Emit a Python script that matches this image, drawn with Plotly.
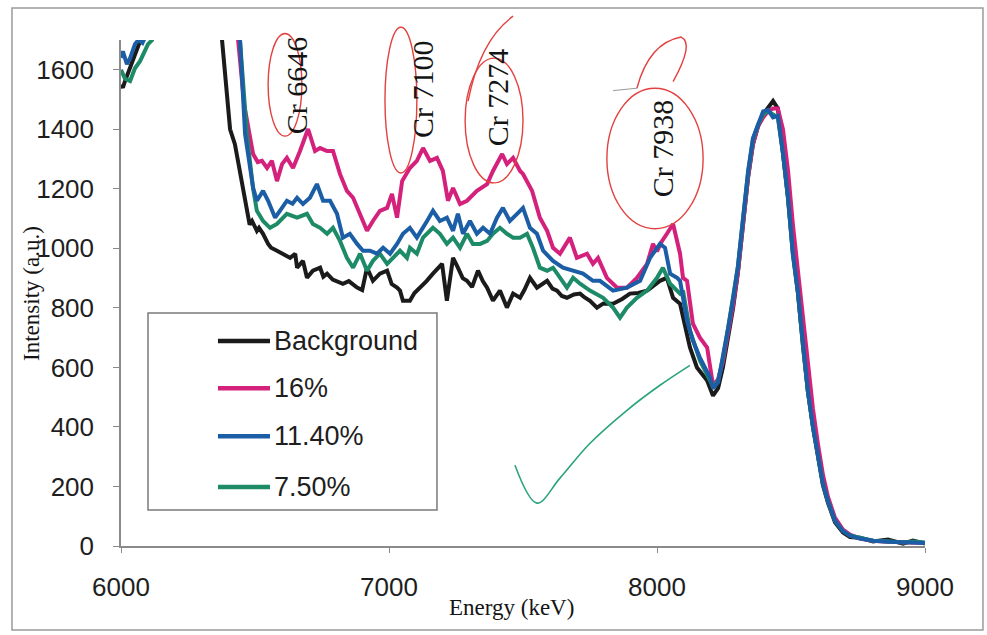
import plotly.graph_objects as go

# ---------------- data ----------------
BLACK_E = [6000, 6007, 6015, 6034, 6045, 6060, 6071, 6090, 6120, 6200, 6300, 6350, 6377, 6399, 6407,
           6425, 6444, 6451, 6463, 6480, 6489, 6507, 6515, 6530, 6549, 6560, 6582, 6605, 6631, 6650,
           6657, 6679, 6694, 6716, 6743, 6755, 6769, 6790, 6828, 6850, 6881, 6900, 6918, 6940, 6966,
           6993, 7010, 7030, 7041, 7052, 7078, 7095, 7116, 7140, 7164, 7198, 7216, 7239, 7257, 7275,
           7291, 7310, 7332, 7350, 7366, 7388, 7414, 7440, 7463, 7489, 7505, 7526, 7552, 7575, 7590,
           7610, 7627, 7645, 7664, 7690, 7713, 7730, 7750, 7776, 7800, 7836, 7870, 7899, 7930, 7963,
           7990, 8011, 8037, 8060, 8086, 8100, 8123, 8149, 8187]
BLACK_I = [1550, 1540, 1562, 1605, 1639, 1672, 1696, 1730, 1900, 2300, 2300, 2000, 1700, 1495, 1400,
           1350, 1250, 1226, 1160, 1080, 1092, 1059, 1069, 1049, 1015, 1002, 992, 982, 968, 982,
           935, 958, 901, 925, 935, 905, 915, 895, 881, 890, 868, 860, 935, 891, 915,
           925, 880, 868, 858, 824, 824, 850, 868, 890, 915, 948, 824, 968, 935, 900,
           891, 870, 925, 890, 868, 824, 858, 801, 848, 834, 860, 901, 868, 880, 891,
           865, 858, 840, 834, 845, 848, 835, 824, 801, 815, 814, 830, 848, 850, 858,
           875, 891, 901, 834, 814, 760, 667, 600, 556]

MAGENTA_E = [6000, 6100, 6400, 6437, 6460, 6493, 6510, 6526, 6545, 6563, 6582, 6601, 6619, 6642, 6668,
             6698, 6724, 6743, 6769, 6791, 6817, 6843, 6866, 6892, 6918, 6940, 6966, 6993, 7011, 7030,
             7049, 7078, 7104, 7127, 7153, 7179, 7201, 7220, 7239, 7265, 7291, 7328, 7366, 7388, 7422,
             7440, 7463, 7489, 7500, 7534, 7563, 7590, 7612, 7638, 7675, 7701, 7739, 7761, 7780, 7813,
             7851, 7888, 7925, 7963, 7985, 8000, 8019, 8037, 8060, 8086, 8097, 8112, 8134, 8160, 8187]
MAGENTA_I = [1950, 2300, 2300, 1700, 1480, 1317, 1290, 1294, 1270, 1294, 1226, 1283, 1304, 1270, 1327,
             1401, 1327, 1337, 1327, 1327, 1250, 1193, 1170, 1116, 1059, 1092, 1126, 1136, 1183, 1103,
             1226, 1270, 1294, 1337, 1294, 1304, 1260, 1160, 1203, 1149, 1160, 1193, 1216, 1260, 1317,
             1283, 1304, 1260, 1250, 1193, 1103, 1059, 1002, 982, 1036, 968, 982, 948, 968, 901,
             868, 868, 901, 948, 1015, 990, 1025, 1049, 1082, 982, 901, 891, 747, 700, 667]

BLUE_E = [6000, 6007, 6022, 6034, 6052, 6065, 6080, 6100, 6130, 6200, 6400, 6444, 6463, 6493, 6507,
          6530, 6549, 6575, 6593, 6619, 6640, 6657, 6679, 6705, 6731, 6754, 6780, 6806, 6828, 6854,
          6881, 6903, 6929, 6955, 6978, 7004, 7030, 7052, 7078, 7104, 7142, 7164, 7190, 7216, 7239,
          7257, 7276, 7302, 7328, 7351, 7377, 7403, 7425, 7451, 7478, 7500, 7526, 7552, 7575, 7612,
          7649, 7687, 7724, 7761, 7787, 7836, 7888, 7937, 7974, 8011, 8030, 8049, 8075, 8086, 8112,
          8134, 8160, 8198]
BLUE_I = [1640, 1662, 1619, 1639, 1686, 1700, 1690, 1730, 1900, 2300, 2300, 1700, 1384, 1203, 1160,
          1193, 1160, 1103, 1126, 1160, 1150, 1170, 1149, 1170, 1216, 1160, 1160, 1116, 1036, 1049,
          1015, 992, 992, 982, 1002, 982, 1015, 1049, 1069, 1036, 1092, 1126, 1092, 1103, 1059,
          1116, 1049, 1092, 1049, 1069, 1049, 1103, 1136, 1092, 1116, 1136, 1069, 1049, 992, 958,
          935, 925, 915, 891, 891, 858, 868, 891, 968, 1015, 1002, 915, 901, 891, 757,
          690, 633, 566]

GREEN_E = [6000, 6015, 6034, 6052, 6071, 6090, 6101, 6116, 6135, 6200, 6400, 6444, 6470, 6493, 6507,
           6530, 6556, 6582, 6619, 6657, 6694, 6716, 6743, 6769, 6791, 6817, 6843, 6866, 6892, 6918,
           6940, 6966, 6993, 7015, 7041, 7067, 7078, 7104, 7127, 7164, 7190, 7216, 7239, 7265, 7291,
           7313, 7340, 7366, 7388, 7414, 7440, 7463, 7489, 7515, 7537, 7563, 7590, 7612, 7638, 7664,
           7687, 7713, 7750, 7799, 7836, 7862, 7888, 7925, 7963, 8000, 8022, 8049, 8086, 8097, 8123,
           8160, 8198]
GREEN_I = [1600, 1570, 1562, 1605, 1629, 1662, 1686, 1700, 1800, 2300, 2300, 1700, 1380, 1200, 1126,
           1092, 1069, 1082, 1116, 1103, 1116, 1082, 1069, 1049, 1069, 1025, 968, 935, 982, 925,
           958, 982, 948, 968, 992, 968, 1002, 982, 1036, 1069, 1049, 1015, 1036, 1002, 1049,
           1015, 1015, 1025, 1049, 1069, 1049, 1036, 1036, 1049, 1002, 935, 925, 935, 901, 868,
           901, 881, 858, 834, 801, 767, 801, 834, 858, 901, 935, 881, 848, 858, 724,
           623, 556]

# main peak (all series nearly coincide)
PEAK_E = [8209, 8228, 8246, 8265, 8284, 8302, 8321, 8340, 8358, 8377, 8396, 8414, 8433, 8451, 8470,
          8489, 8507, 8526, 8545, 8563, 8582, 8601, 8619, 8638, 8664, 8694, 8720, 8757, 8806, 8862,
          8918, 8955, 9000]
BLACK_PEAK = [505, 530, 600, 700, 800, 920, 1080, 1240, 1350, 1410, 1450, 1470, 1495, 1470, 1320,
              1170, 990, 850, 670, 520, 400, 290, 205, 145, 80, 45, 30, 28, 15, 22, 8, 18, 8]
MAGENTA_PEAK = [540, 560, 620, 710, 810, 920, 1080, 1240, 1350, 1410, 1440, 1460, 1470, 1470, 1400,
                1260, 1080, 920, 760, 600, 460, 340, 240, 165, 95, 55, 38, 25, 18, 14, 12, 14, 10]
BLUE_PEAK = [530, 550, 630, 730, 830, 940, 1100, 1260, 1370, 1420, 1460, 1465, 1440, 1445, 1320,
             1170, 980, 850, 670, 520, 400, 295, 210, 150, 85, 50, 35, 25, 18, 14, 12, 14, 10]
GREEN_PEAK = [535, 555, 630, 730, 830, 940, 1100, 1255, 1365, 1415, 1450, 1460, 1450, 1440, 1320,
              1165, 980, 850, 670, 520, 400, 295, 210, 150, 85, 50, 35, 28, 18, 16, 12, 15, 12]

SERIES_NAMES = ["Background", "16%", "11.40%", "7.50%"]
SERIES_COLORS = ["#1b1b1b", "#d4217c", "#1c5ea6", "#1d8a68"]

X_TICKS = [6000, 7000, 8000, 9000]
Y_TICKS = [0, 200, 400, 600, 800, 1000, 1200, 1400, 1600]
X_RANGE = [6000, 9000]
Y_RANGE = [0, 1700]

# hand annotations
PEAK_LABELS = ["Cr 6646", "Cr 7100", "Cr 7274", "Cr 7938"]
LABEL_E = [6653, 7123, 7403, 8019]
LABEL_I = [1548, 1535, 1508, 1337]
# ellipses: (E0, E1, I0, I1)
ELLIPSES = [(6549, 6675, 1377, 1722), (6985, 7104, 1253, 1743),
            (7284, 7500, 1220, 1639), (7813, 8172, 1066, 1538)]
CHECK_E = [7470, 7552, 7638, 7750, 7888, 8011, 8123]
CHECK_I = [271, 144, 228, 345, 456, 540, 607]

# ---------------- figure ----------------
fig = go.Figure()

series = {
    "Background": (BLACK_E + PEAK_E, BLACK_I + BLACK_PEAK),
    "16%": (MAGENTA_E + PEAK_E, MAGENTA_I + MAGENTA_PEAK),
    "11.40%": (BLUE_E + PEAK_E, BLUE_I + BLUE_PEAK),
    "7.50%": (GREEN_E + PEAK_E, GREEN_I + GREEN_PEAK),
}
draw_order = ["Background", "16%", "7.50%", "11.40%"]
for name in draw_order:
    e, i = series[name]
    color = SERIES_COLORS[SERIES_NAMES.index(name)]
    fig.add_trace(go.Scatter(x=e, y=i, mode="lines", name=name,
                             line=dict(color=color, width=4), showlegend=False))

# green hand-drawn check mark
fig.add_trace(go.Scatter(x=CHECK_E, y=CHECK_I, mode="lines", showlegend=False,
                         line=dict(color="#2aa37e", width=1.6, shape="spline"),
                         hoverinfo="skip"))


def px_(e):
    return (e - X_RANGE[0]) / (X_RANGE[1] - X_RANGE[0])


def py_(i):
    return (i - Y_RANGE[0]) / (Y_RANGE[1] - Y_RANGE[0])


shapes = []
red = "#e2413f"
for (e0, e1, i0, i1) in ELLIPSES:
    shapes.append(dict(type="circle", xref="paper", yref="paper",
                       x0=px_(e0), x1=px_(e1), y0=py_(i0), y1=py_(i1),
                       line=dict(color=red, width=1.4)))
# extra strokes: tail of the Cr 7274 loop and the lobe above Cr 7938
shapes.append(dict(type="path", xref="paper", yref="paper",
                   path=f"M{px_(7295)},{py_(1495)} Q{px_(7340)},{py_(1700)} {px_(7463)},{py_(1780)}",
                   line=dict(color=red, width=1.4)))
shapes.append(dict(type="path", xref="paper", yref="paper",
                   path=(f"M{px_(7925)},{py_(1538)} Q{px_(7970)},{py_(1690)} {px_(8090)},{py_(1710)}"
                         f" Q{px_(8140)},{py_(1690)} {px_(8060)},{py_(1560)}"),
                   line=dict(color=red, width=1.4)))
shapes.append(dict(type="line", xref="paper", yref="paper",
                   x0=px_(7836), y0=py_(1530), x1=px_(7925), y1=py_(1538),
                   line=dict(color="#9a9a9a", width=1)))

# manual legend box
LEG_X0, LEG_X1, LEG_Y0, LEG_Y1 = 0.0336, 0.393, 0.0711, 0.4605
LEG_ROWS = [0.405, 0.312, 0.217, 0.1166]
shapes.append(dict(type="rect", xref="paper", yref="paper",
                   x0=LEG_X0, x1=LEG_X1, y0=LEG_Y0, y1=LEG_Y1,
                   line=dict(color="#7a7a7a", width=1.5), fillcolor="rgba(0,0,0,0)"))
annotations = []
for name, color, yrow in zip(SERIES_NAMES, SERIES_COLORS, LEG_ROWS):
    shapes.append(dict(type="line", xref="paper", yref="paper",
                       x0=0.1206, x1=0.1853, y0=yrow, y1=yrow,
                       line=dict(color=color, width=4.5)))
    annotations.append(dict(xref="paper", yref="paper", x=0.1878, y=yrow,
                            xanchor="left", yanchor="middle", text=name, showarrow=False,
                            font=dict(family="Liberation Sans, Arial", size=27, color="#1e1e1e")))

# outer scanned frame
shapes.append(dict(type="rect", xref="paper", yref="paper",
                   x0=-0.1356, x1=1.0721, y0=-0.166, y1=1.063,
                   line=dict(color="#9a9a9a", width=1.5)))

for lab, e, i in zip(PEAK_LABELS, LABEL_E, LABEL_I):
    annotations.append(dict(x=e, y=i, xref="x", yref="y", text=lab, showarrow=False,
                            textangle=-90, xanchor="center", yanchor="middle",
                            font=dict(family="Liberation Serif, Times New Roman", size=30,
                                      color="#141414")))

# axis titles
annotations.append(dict(xref="paper", yref="paper", x=-0.112, y=0.5, text="Intensity (a.u.)",
                        textangle=-90, showarrow=False, xanchor="center", yanchor="middle",
                        font=dict(family="Liberation Serif, Times New Roman", size=23,
                                  color="#141414")))
annotations.append(dict(xref="paper", yref="paper", x=0.486, y=-0.1206, text="Energy (keV)",
                        showarrow=False, xanchor="center", yanchor="middle",
                        font=dict(family="Liberation Serif, Times New Roman", size=23,
                                  color="#141414")))

fig.update_layout(
    width=987, height=635,
    margin=dict(l=121, r=62, t=40, b=89),
    paper_bgcolor="white", plot_bgcolor="white",
    shapes=shapes, annotations=annotations,
    showlegend=False,
)
fig.update_xaxes(range=X_RANGE, tickvals=X_TICKS, ticktext=[str(v) for v in X_TICKS],
                 showgrid=False, zeroline=False, showline=True, linecolor="#8a8a8a", linewidth=1.5,
                 ticks="outside", ticklen=5, tickcolor="#8a8a8a", ticklabelstandoff=12,
                 tickfont=dict(family="Liberation Sans, Arial", size=26, color="#1e1e1e"))
fig.update_yaxes(range=Y_RANGE, tickvals=Y_TICKS, ticktext=[str(v) for v in Y_TICKS],
                 showgrid=False, zeroline=False, showline=True, linecolor="#8a8a8a", linewidth=1.5,
                 ticks="outside", ticklen=6, tickcolor="#8a8a8a", ticklabelstandoff=14,
                 tickfont=dict(family="Liberation Sans, Arial", size=26, color="#1e1e1e"))

fig.write_html("out.html")
